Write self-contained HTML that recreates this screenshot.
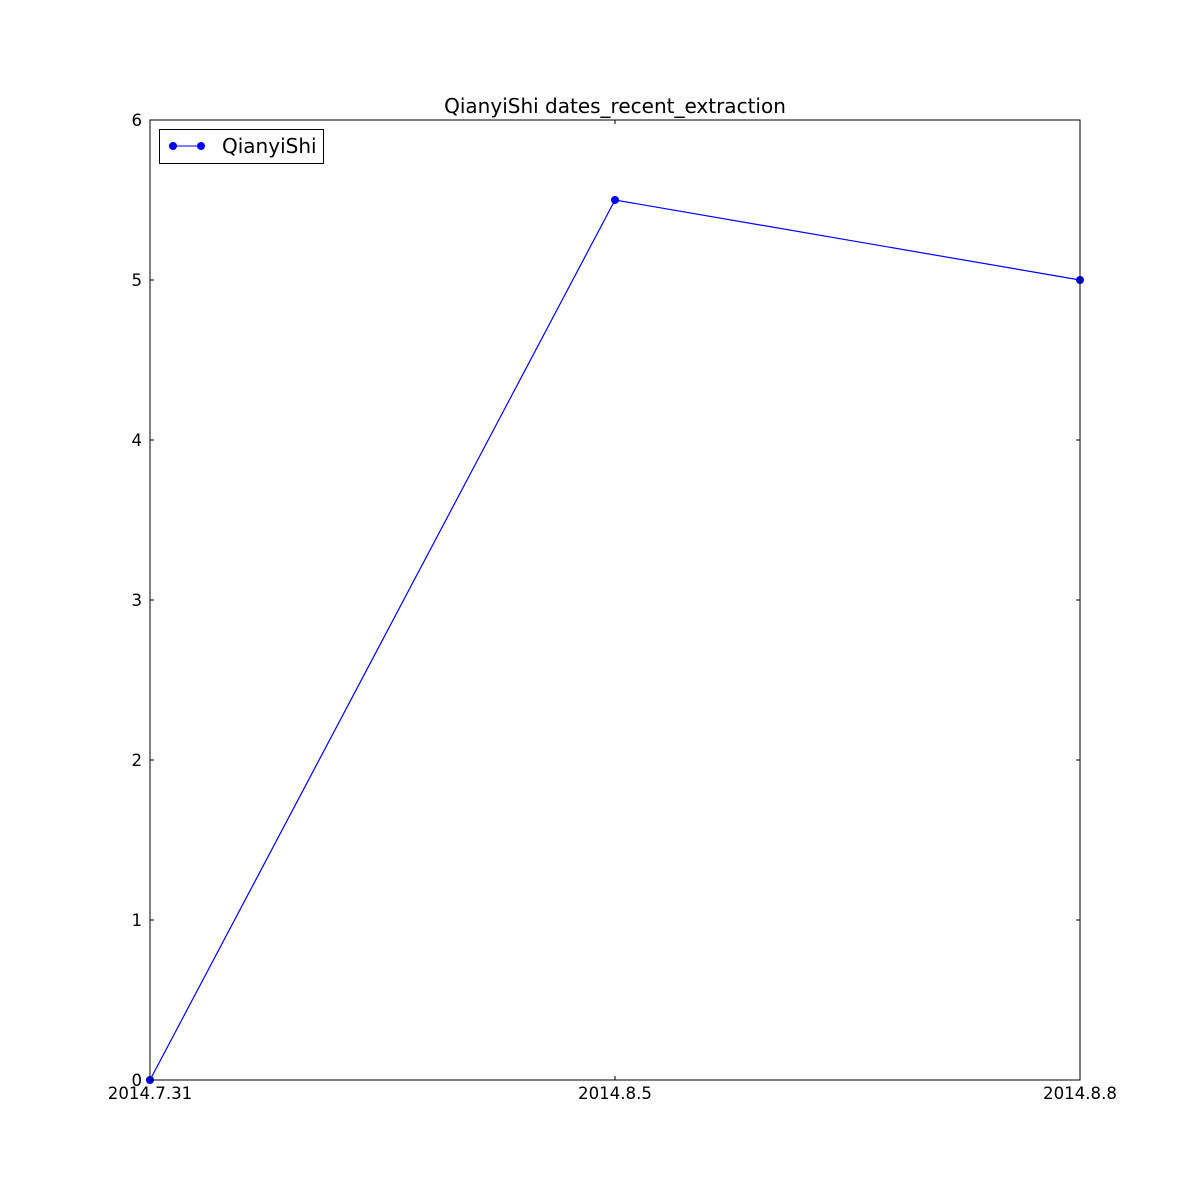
<!DOCTYPE html>
<html><head><meta charset="utf-8"><style>
html,body{margin:0;padding:0;background:#fff;overflow:hidden;}
svg{display:block;}
svg text{font-family:"DejaVu Sans","Liberation Sans",sans-serif;fill:#000;}
</style></head><body>
<svg id="chart" width="1200" height="1200" xmlns="http://www.w3.org/2000/svg">
<rect width="1200" height="1200" fill="#fff"/>
<text x="615" y="113" font-size="20" text-anchor="middle">QianyiShi dates_recent_extraction</text>
<g id="ticks"></g>
<g id="series"></g>
<rect x="150" y="120" width="930" height="960" fill="none" stroke="#000" stroke-width="1"/>
<g>
<rect x="159.5" y="129.5" width="164" height="34" fill="#fff" stroke="#000"/>
<line x1="173" y1="146" x2="201" y2="146" stroke="#0000ff"/>
<circle cx="173" cy="146" r="4" fill="#0000ff"/>
<circle cx="201" cy="146" r="4" fill="#0000ff"/>
<text x="222" y="153" font-size="20">QianyiShi</text>
</g>
</svg>
<script>
const categories = ["2014.7.31","2014.8.5","2014.8.8"];
const values = [0, 5.5, 5];
const yTicks = [0,1,2,3,4,5,6];
const NS="http://www.w3.org/2000/svg";
const L=150,R=1080,T=120,B=1080,yMax=6;
function xs(i){return L+(R-L)*i/(categories.length-1);}
function ys(v){return B-(B-T)*v/yMax;}
const tg=document.getElementById('ticks'), sg=document.getElementById('series');
function mk(tag,attrs,parent){const e=document.createElementNS(NS,tag);for(const k in attrs)e.setAttribute(k,attrs[k]);parent.appendChild(e);return e;}
yTicks.forEach(v=>{
  const y=ys(v);
  const a=mk('line',{x1:L,y1:y,x2:L+4,y2:y,stroke:'#000'},tg);
  
  
  const b=mk('line',{x1:R-4,y1:y,x2:R,y2:y,stroke:'#000'},tg);
  
  
  const t=mk('text',{x:L-8,y:y+6,'font-size':16.6,'text-anchor':'end'},tg);
  t.textContent=v;
  
  
});
categories.forEach((c,i)=>{
  const x=xs(i);
  const a=mk('line',{x1:x,y1:B,x2:x,y2:B-4,stroke:'#000'},tg);
  
  
  const b=mk('line',{x1:x,y1:T,x2:x,y2:T+4,stroke:'#000'},tg);
  
  
  const t=mk('text',{x:x,y:B+19,'font-size':16.6,'text-anchor':'middle'},tg);
  t.textContent=c;
  
  
});
const pts=values.map((v,i)=>xs(i)+','+ys(v)).join(' ');
const pl=mk('polyline',{points:pts,fill:'none',stroke:'#0000ff','stroke-width':1.2},sg);


values.forEach((v,i)=>{
  const c=mk('circle',{cx:xs(i),cy:ys(v),r:4,fill:'#0000ff'},sg);
  
  
});
</script>
</body></html>
